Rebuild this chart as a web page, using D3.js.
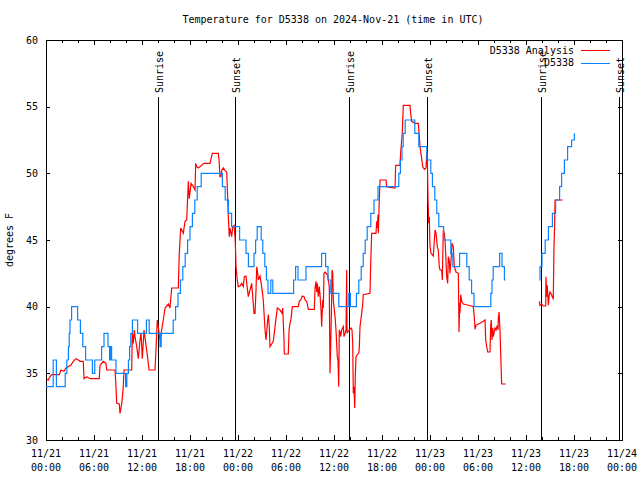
<!DOCTYPE html>
<html>
<head>
<meta charset="utf-8">
<script src="https://cdn.jsdelivr.net/npm/d3@7"></script>
<style>
  html, body { margin: 0; padding: 0; background: #fff; }
  svg { display: block; }
  text { font-family: "DejaVu Sans Mono", "Liberation Mono", monospace; font-size: 10px; fill: #000; }
</style>
</head>
<body>
<svg id="chart" width="640" height="480"></svg>
<script>
// ---------------- DATA ----------------
const title = "Temperature for D5338 on 2024-Nov-21 (time in UTC)";
const yLabel = "degrees F";
const startUTC = [2024, 10, 21]; // 2024-11-21 00:00 UTC

const yTicks = [30, 35, 40, 45, 50, 55, 60];
const xTickHours = [0, 6, 12, 18, 24, 30, 36, 42, 48, 54, 60, 66, 72];
const xTickDates = ["11/21", "11/21", "11/21", "11/21", "11/22", "11/22", "11/22", "11/22", "11/23", "11/23", "11/23", "11/23", "11/24"];
const xTickTimes = ["00:00", "06:00", "12:00", "18:00", "00:00", "06:00", "12:00", "18:00", "00:00", "06:00", "12:00", "18:00", "00:00"];

const eventHours = [14.0, 23.6, 37.92, 47.6, 61.9, 71.6];
const eventLabels = ["Sunrise", "Sunset", "Sunrise", "Sunset", "Sunrise", "Sunset"];

const seriesNames = ["D5338 Analysis", "D5338"];

// D5338 Analysis (red) : hours since start, degrees F
const analysisHours = [0.09,0.29,0.5,0.71,1.66,1.88,2.25,2.5,3.09,3.41,3.75,4.04,4.25,4.66,4.75,5.09,5.5,6.66,6.75,7.16,7.5,7.59,8.63,8.75,8.84,9.16,9.25,9.38,9.5,9.66,9.75,10.71,10.79,10.91,11.04,11.13,11.34,11.54,11.75,11.88,12.04,12.25,12.5,12.66,12.88,13.63,13.84,13.91,14.09,14.25,14.46,14.66,14.88,15.29,15.5,15.71,16.54,16.66,16.84,17.16,17.38,17.59,17.79,17.91,18.13,18.41,18.63,18.71,18.84,19.04,19.46,19.75,20.5,20.63,20.79,21.54,21.63,21.75,21.88,21.96,22.16,22.38,22.59,22.66,22.79,22.91,23.0,23.21,23.34,23.5,23.63,23.71,23.75,23.91,24.04,24.25,24.46,24.66,24.79,25.0,25.09,25.29,25.5,25.71,25.84,26.0,26.13,26.25,26.34,26.46,26.54,26.75,26.96,27.16,27.38,27.5,27.71,27.79,27.91,28.0,28.21,28.41,28.63,28.75,28.91,29.25,29.5,29.59,29.75,29.79,30.29,30.38,30.5,30.63,30.79,31.54,31.66,31.84,32.04,32.25,32.38,32.59,32.79,33.54,33.63,33.75,33.84,33.91,34.04,34.16,34.25,34.38,34.46,34.59,34.66,34.75,34.88,35.0,35.21,35.29,35.41,35.5,35.59,35.71,35.75,35.84,35.91,36.13,36.25,36.41,36.5,36.59,36.66,36.75,36.84,36.96,37.16,37.25,37.38,37.5,37.59,37.63,37.71,37.91,38.13,38.25,38.34,38.41,38.5,38.59,38.66,38.75,38.91,39.09,39.16,39.25,39.46,39.59,39.66,40.5,40.59,40.71,41.25,41.34,41.41,41.5,41.54,41.66,41.75,42.5,42.59,43.63,43.71,44.25,44.34,44.46,44.54,44.66,45.5,45.59,45.71,46.13,46.54,46.63,46.75,46.96,47.09,47.29,47.5,47.59,47.66,47.75,47.84,47.91,48.0,48.13,48.41,48.63,48.75,48.91,49.04,49.16,49.25,49.46,49.54,49.66,49.79,49.88,50.09,50.21,50.29,50.41,50.5,50.63,50.75,50.91,51.04,51.25,51.54,51.63,51.71,51.75,51.84,51.96,52.16,53.21,53.41,53.54,53.63,53.75,54.04,54.25,54.66,54.88,54.96,55.09,55.21,55.5,55.59,55.66,55.75,55.84,55.91,56.13,56.25,56.41,56.5,56.54,56.63,56.75,56.88,56.96,57.46,57.5,61.66,61.75,61.96,62.16,62.46,62.5,62.59,62.66,62.79,62.91,63.0,63.21,63.29,63.41,63.5,63.59,63.63,64.59];
const analysisTemps = [34.55,34.5,34.75,34.9,34.9,35.25,35.15,35.4,35.6,35.9,36.1,36.0,35.9,35.9,34.6,34.75,34.6,34.6,35.6,35.9,35.75,35.25,35.25,34.0,32.75,32.7,32.0,32.4,32.9,34.0,35.25,35.25,38,37.25,38.25,37.75,37,36.1,37.5,38,36.1,38.25,37.1,36.4,35.25,35.25,38,39,38.25,37.5,38.25,39,39.9,40.2,39.9,41.4,41.4,44,45.9,45.5,46.4,46.5,49.4,48.1,49.25,49,48.75,50.75,50.5,50.4,50.6,50.75,50.75,51.1,51.5,51.5,51,49.75,49.75,50.2,50.4,50.2,50.1,49,46.75,45.25,45.9,45.25,46,46.1,45.25,44,43,42,41.5,41.55,41.75,41.5,42.25,42.3,41.75,40.75,41.25,41.75,40.75,39.5,39.5,41.25,43,42.5,42,42.3,41.5,40.5,38.25,37.5,39,39.4,38.5,37,37.2,37.4,38.5,39.1,39.9,39.75,39.5,39.9,37.5,36.45,36.45,38.25,38.75,39.1,40,40,40.4,40.5,40.8,40.75,40.5,40.4,39.8,39.8,41.4,41.9,41.1,41.75,40.75,41.5,40.9,39.75,38.5,40.5,39.9,42.5,42.6,42.5,42.4,42,41.5,35,37,40.75,42.75,42.5,40.5,39.25,38.25,36.25,36,34,38.25,38.1,37.75,38.25,38.5,37.75,38,38.25,42.75,38,38.1,38.25,38.4,38.25,37.25,33.5,34,32.4,34.75,36.25,36.4,36.5,36.9,38.5,39.5,40.25,40.9,41,43.25,45.5,45.5,46.4,45.9,46.9,45.5,48,49.5,49.5,49,48.9,50.6,50.6,51.6,52.5,53.1,55.1,55.1,54.5,53.9,53.75,53.75,53,52,51.1,50.5,50.3,50.4,51.5,51.5,48.1,46.25,46.75,44.5,44,43.8,45.75,45.5,44.5,44.25,43,42.75,42.75,42,45.75,45.5,45,42.25,41.75,43.75,43.5,42.5,43.5,44.75,44.5,43,42.6,42.5,38.1,40.25,39.5,40.9,40.4,40.2,40.05,40,39.2,38.3,38.6,38.7,38.75,38.9,39,37.5,37,36.6,36.6,38.6,39,37.5,38.4,37.75,38.4,38.25,38.6,38.25,39.1,39.6,38.25,35.6,34.2,34.2,null,40.4,40.1,40.2,40.05,40.05,42.25,40.75,41.6,40.1,40.9,41.1,40.9,40.7,40.6,44.5,46.5,48,48];

// D5338 observations (blue) : hours since start, degrees F (step changes)
const obsHours = [0,0.9,1.3,2.4,2.6,2.8,2.9,3.0,3.2,3.95,4.3,4.6,4.95,5.8,6.1,6.95,7.25,7.75,7.95,8.05,8.2,8.75,9.95,10.1,10.3,10.45,10.6,10.8,11.45,12.55,12.9,14.25,14.4,15.9,16.2,16.5,16.8,17.1,17.4,17.7,18.0,18.3,18.6,18.9,19.4,22.05,22.4,22.8,23.2,24.2,25.0,25.3,26.0,26.2,26.4,26.9,27.1,27.35,27.55,27.75,28.1,28.35,30.95,31.2,31.5,32.5,34.45,34.95,35.25,35.6,36.6,37.85,38.05,38.8,39.1,39.4,39.65,39.9,40.15,40.6,41.0,41.5,44.1,44.3,44.5,44.65,44.9,46.1,46.6,47.6,48.1,48.3,48.6,48.85,49.1,49.7,50.6,50.85,51.7,52.6,52.9,53.2,53.5,55.6,55.75,55.9,56.7,57.0,57.3,57.45,57.5,61.65,61.75,62.0,62.4,62.8,63.3,63.7,64.2,64.45,64.8,65.2,65.7,66.05];
const obsTemps = [34,36,34,35,36,37,38,39,40,39,38,37,36,35,36,37,38,37,36,37,36,35,34,35,36,37,38,39,38,39,38,37,38,39,40,41,42,43,44,45,46,47,48,49,50,49,48,47,46,45,44,43,44,45,46,45,44,43,42,41,42,41,42,43,42,43,44,43,42,41,40,41,40,41,42,43,44,45,46,47,48,49,50,51,52,53,54,53,52,51,50,49,48,47,46,45,44,43,44,43,42,41,40,41,42,43,44,43,42,42,null,42,43,44,45,46,47,48,49,50,51,52,52.5,53];

// ---------------- CHART ----------------
const svg = d3.select("#chart");
const L = 46, R = 622, T = 40, B = 440;
const t0 = Date.UTC(startUTC[0], startUTC[1], startUTC[2]);
const toDate = h => new Date(t0 + h * 3600e3);

const x = d3.scaleUtc().domain([toDate(0), toDate(72)]).range([L, R]);
const y = d3.scaleLinear().domain([30, 60]).range([B, T]);

const red = "#ff0000", blue = "#0a84ff";

// title
svg.append("text").attr("x", 333).attr("y", 23).attr("text-anchor", "middle").text(title);

// y label
svg.append("text").attr("transform", "translate(13,240) rotate(-90)")
  .attr("text-anchor", "middle").text(yLabel);

// axes (ticks inward)
const axesG = svg.append("g").attr("shape-rendering", "crispEdges");
const majorTickVals = xTickHours.map(toDate);
const minorTickVals = d3.range(0, 73, 2).filter(h => h % 6 !== 0).map(toDate);

axesG.append("g").attr("transform", `translate(0,${B})`)
  .call(d3.axisBottom(x).tickValues(majorTickVals).tickSizeInner(-5).tickSizeOuter(0).tickFormat(""));
axesG.append("g").attr("transform", `translate(0,${B})`)
  .call(d3.axisBottom(x).tickValues(minorTickVals).tickSizeInner(-3).tickSizeOuter(0).tickFormat(""));
axesG.append("g").attr("transform", `translate(0,${T})`)
  .call(d3.axisTop(x).tickValues(majorTickVals).tickSizeInner(-5).tickSizeOuter(0).tickFormat(""));
axesG.append("g").attr("transform", `translate(0,${T})`)
  .call(d3.axisTop(x).tickValues(minorTickVals).tickSizeInner(-3).tickSizeOuter(0).tickFormat(""));
axesG.append("g").attr("transform", `translate(${L},0)`)
  .call(d3.axisLeft(y).tickValues(yTicks).tickSizeInner(-4).tickSizeOuter(0).tickPadding(8));
axesG.append("g").attr("transform", `translate(${R},0)`)
  .call(d3.axisRight(y).tickValues(yTicks).tickSizeInner(-4).tickSizeOuter(0).tickFormat(""));
axesG.selectAll(".domain").remove();
axesG.selectAll(".tick line").attr("stroke", "#000");
axesG.selectAll("text").attr("font-family", "DejaVu Sans Mono, monospace").attr("font-size", 10).attr("fill", "#000");

// frame
axesG.append("rect").attr("x", L + 0.5).attr("y", T + 0.5).attr("width", R - L).attr("height", B - T)
  .attr("fill", "none").attr("stroke", "#000");

// x tick labels (two lines)
const xl = svg.append("g");
xTickHours.forEach((h, i) => {
  xl.append("text").attr("x", x(toDate(h))).attr("y", 457).attr("text-anchor", "middle").text(xTickDates[i]);
  xl.append("text").attr("x", x(toDate(h))).attr("y", 471).attr("text-anchor", "middle").text(xTickTimes[i]);
});

// sunrise / sunset lines
const ev = svg.append("g");
eventHours.forEach((h, i) => {
  const ex = Math.round(x(toDate(h))) + 0.5;
  ev.append("line").attr("x1", ex).attr("x2", ex).attr("y1", 97).attr("y2", B)
    .attr("stroke", "#000").attr("stroke-width", 1).attr("shape-rendering", "crispEdges");
  ev.append("text").attr("transform", `translate(${ex + 1},93) rotate(-90)`)
    .attr("dominant-baseline", "central").attr("text-anchor", "start").text(eventLabels[i]);
});

// series
const redData = analysisHours.map((h, i) => ({ d: toDate(h), v: analysisTemps[i] }));
const blueData = obsHours.map((h, i) => ({ d: toDate(h), v: obsTemps[i] }));

const lineRed = d3.line().defined(p => p.v != null).x(p => x(p.d)).y(p => y(p.v));
const lineBlue = d3.line().defined(p => p.v != null).x(p => x(p.d)).y(p => y(p.v)).curve(d3.curveStepAfter);

svg.append("path").datum(redData).attr("d", lineRed)
  .attr("fill", "none").attr("stroke", red).attr("stroke-width", 1.2).attr("stroke-linejoin", "miter");
svg.append("path").datum(blueData).attr("d", lineBlue)
  .attr("fill", "none").attr("stroke", blue).attr("stroke-width", 1.2);

// legend
const lg = svg.append("g");
const legColors = [red, blue];
seriesNames.forEach((n, i) => {
  const ly = 50 + i * 12.5;
  lg.append("text").attr("x", 574).attr("y", ly).attr("dominant-baseline", "central")
    .attr("text-anchor", "end").text(n);
  lg.append("line").attr("x1", 581).attr("x2", 610).attr("y1", Math.round(ly) + 0.5).attr("y2", Math.round(ly) + 0.5)
    .attr("stroke", legColors[i]).attr("stroke-width", 1);
});
</script>
</body>
</html>
